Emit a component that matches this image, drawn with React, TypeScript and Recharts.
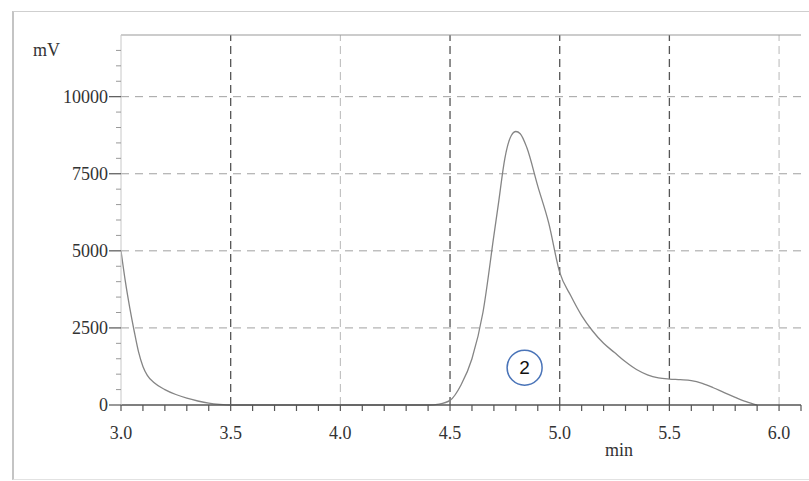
import React from 'react';
import { LineChart, Line, XAxis, YAxis, ReferenceLine, ReferenceDot } from 'recharts';

// retention time (min) and detector signal (mV)
const times = [
  3.0, 3.02, 3.04, 3.06, 3.08, 3.1, 3.12, 3.15, 3.2, 3.25, 3.3, 3.35, 3.4, 3.45, 3.5,
  4.0, 4.4, 4.45, 4.5, 4.55, 4.6, 4.65, 4.7, 4.72, 4.75, 4.78, 4.8, 4.82, 4.85,
  4.9, 4.95, 5.0, 5.05, 5.1, 5.15, 5.2, 5.25, 5.3, 5.35, 5.4, 5.45, 5.5, 5.55,
  5.6, 5.65, 5.7, 5.75, 5.8, 5.85, 5.9,
];
const signal = [
  5000, 4000, 3150, 2400, 1720, 1250, 960, 730, 500, 340, 220, 130, 60, 20, 0,
  0, 0, 30, 150, 650, 1500, 3000, 5500, 6500, 8000, 8750, 8870, 8800, 8350,
  7100, 5900, 4300, 3550, 2900, 2400, 2000, 1700, 1400, 1150, 980, 880, 840, 820,
  790, 700, 560, 400, 250, 110, 0,
];

const majorX = [3.0, 3.5, 4.0, 4.5, 5.0, 5.5, 6.0];
const minorX = [3.1, 3.2, 3.3, 3.4, 3.6, 3.7, 3.8, 3.9, 4.1, 4.2, 4.3, 4.4, 4.6, 4.7, 4.8, 4.9, 5.1, 5.2, 5.3, 5.4, 5.6, 5.7, 5.8, 5.9, 6.1];
const majorY = [0, 2500, 5000, 7500, 10000];
const minorY = [500, 1000, 1500, 2000, 3000, 3500, 4000, 4500, 5500, 6000, 6500, 7000, 8000, 8500, 9000, 9500, 10500, 11000, 11500];

const darkGridX = [3.5, 4.5, 5.0, 5.5];
const lightGridX = [4.0, 6.0];
const gridY = [2500, 5000, 7500, 10000];

const data = times.map((t, i) => ({ t, mv: signal[i] }));

const FONT = '"Liberation Serif", "Times New Roman", serif';

const XTick = (props: any) => {
  const { x, y, payload } = props;
  const v = payload.value;
  const major = majorX.some((m) => Math.abs(m - v) < 1e-6);
  return (
    <g>
      <line x1={x} y1={y} x2={x} y2={y + 6} stroke="#555" strokeWidth={1.2} />
      {major && (
        <text x={x} y={y + 34} textAnchor="middle" fontFamily={FONT} fontSize={18} fill="#333">
          {v.toFixed(1)}
        </text>
      )}
    </g>
  );
};

const YTick = (props: any) => {
  const { x, y, payload } = props;
  const v = payload.value;
  const major = majorY.includes(v);
  return (
    <g>
      {major ? (
        <line x1={x - 12} y1={y} x2={x} y2={y} stroke="#555" strokeWidth={1.2} />
      ) : (
        <line x1={x - 5} y1={y} x2={x} y2={y} stroke="#999" strokeWidth={1} />
      )}
      {major && (
        <text x={x - 13} y={y + 6} textAnchor="end" fontFamily={FONT} fontSize={18} fill="#333">
          {v}
        </text>
      )}
    </g>
  );
};

export default function App() {
  const xTicks = [...majorX, ...minorX].sort((a, b) => a - b);
  const yTicks = [...majorY, ...minorY].sort((a, b) => a - b);
  return (
    <div style={{ position: 'absolute', left: 0, top: 0, width: 809, height: 481, background: '#fff', overflow: 'hidden' }}>
      <div
        style={{
          position: 'absolute',
          left: 12,
          top: 11,
          width: 820,
          height: 467,
          borderLeft: '2px solid #c4c4c4',
          borderTop: '1px solid #cfcfcf',
          borderBottom: '1px solid #e2e2e2',
        }}
      />
      <div style={{ position: 'absolute', left: 33, top: 40, fontFamily: FONT, fontSize: 18, color: '#333' }}>mV</div>
      <div style={{ position: 'absolute', left: 605, top: 440, fontFamily: FONT, fontSize: 18, color: '#333' }}>min</div>
      <div style={{ position: 'absolute', left: 0, top: 0 }}>
        <LineChart width={809} height={481} data={data} margin={{ top: 35, right: 8, bottom: 0, left: 0 }}>
          <XAxis
            dataKey="t"
            type="number"
            domain={[3.0, 6.1]}
            ticks={xTicks}
            interval={0}
            tickLine={false}
            tickSize={0}
            tickMargin={0}
            tick={<XTick />}
            height={76}
            axisLine={{ stroke: '#555', strokeWidth: 1.5 }}
            allowDataOverflow
          />
          <YAxis
            type="number"
            domain={[0, 12000]}
            ticks={yTicks}
            interval={0}
            tickLine={false}
            tickSize={0}
            tickMargin={0}
            tick={<YTick />}
            width={121}
            axisLine={{ stroke: '#c8c8c8', strokeWidth: 1 }}
          />
          {gridY.map((v) => (
            <ReferenceLine key={'h' + v} y={v} stroke="#a0a0a0" strokeDasharray="8 6" strokeWidth={1} />
          ))}
          {darkGridX.map((v) => (
            <ReferenceLine key={'d' + v} x={v} stroke="#555" strokeDasharray="8 5" strokeWidth={1.3} />
          ))}
          {lightGridX.map((v) => (
            <ReferenceLine key={'l' + v} x={v} stroke="#b8b8b8" strokeDasharray="8 5" strokeWidth={1} />
          ))}
          <ReferenceLine y={12000} stroke="#999" strokeWidth={1} />
          <Line
            type="monotone"
            dataKey="mv"
            stroke="#858585"
            strokeWidth={1.3}
            dot={false}
            isAnimationActive={false}
          />
          <ReferenceDot
            x={4.84}
            y={1210}
            r={17.5}
            fill="#fff"
            stroke="#4a74b8"
            strokeWidth={1.5}
            label={{ value: '2', position: 'center', fontFamily: '"Liberation Sans", Arial, sans-serif', fontSize: 19, fill: '#111' }}
          />
        </LineChart>
      </div>
    </div>
  );
}
